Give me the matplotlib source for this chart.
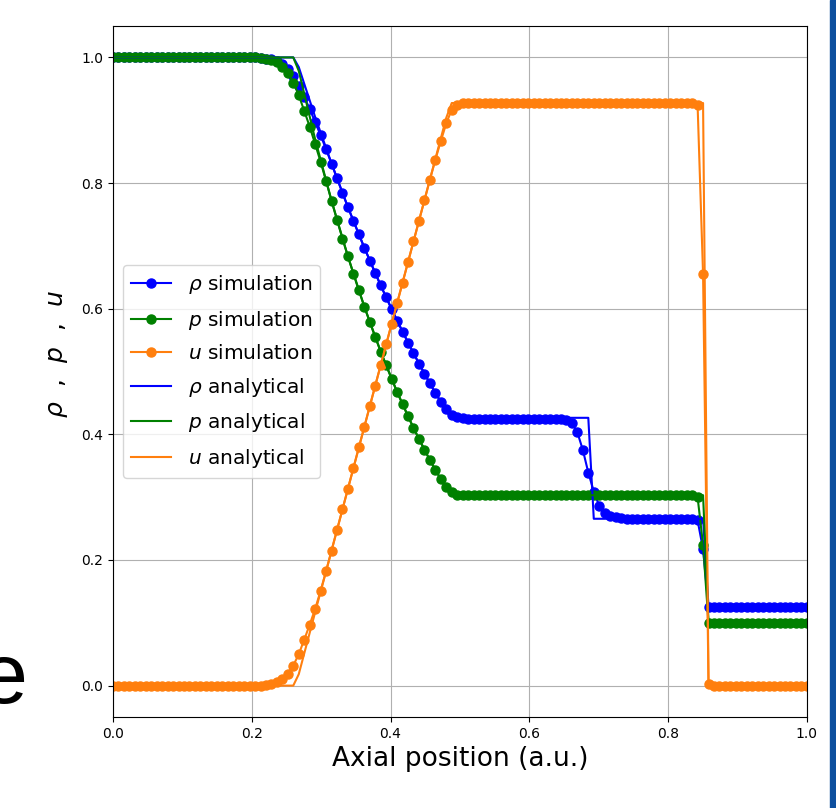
import numpy as np
import matplotlib.pyplot as plt
from matplotlib.patches import Rectangle

# simulation cells (uniform grid on [0, 1])
x_sim = np.linspace(0.0, 1.0, 128)

rho_sim = [
    1.0, 1.0, 1.0, 1.0, 1.0, 1.0, 1.0, 1.0, 1.0, 1.0,
    1.0, 1.0, 1.0, 1.0, 1.0, 1.0, 1.0, 1.0, 1.0, 1.0,
    1.0, 1.0, 1.0, 1.0, 1.0, 1.0, 1.0, 0.999, 0.998, 0.997,
    0.994, 0.989, 0.981, 0.970, 0.955, 0.937, 0.918, 0.897, 0.876, 0.854,
    0.831, 0.8074, 0.7842, 0.7617, 0.7397, 0.7182, 0.6971, 0.6766, 0.6565, 0.6370,
    0.6179, 0.5992, 0.5811, 0.5633, 0.5460, 0.5291, 0.5127, 0.4967, 0.4812, 0.4663,
    0.452, 0.440, 0.431, 0.427, 0.426, 0.425, 0.425, 0.425, 0.425, 0.425,
    0.425, 0.425, 0.425, 0.425, 0.425, 0.425, 0.425, 0.425, 0.425, 0.425,
    0.425, 0.425, 0.425, 0.423, 0.418, 0.403, 0.375, 0.339, 0.309, 0.286,
    0.275, 0.270, 0.268, 0.267, 0.266, 0.266, 0.266, 0.266, 0.266, 0.266,
    0.266, 0.266, 0.266, 0.266, 0.266, 0.266, 0.266, 0.263, 0.217, 0.125,
    0.125, 0.125, 0.125, 0.125, 0.125, 0.125, 0.125, 0.125, 0.125, 0.125,
    0.125, 0.125, 0.125, 0.125, 0.125, 0.125, 0.125, 0.125,
]

p_sim = [
    1.0, 1.0, 1.0, 1.0, 1.0, 1.0, 1.0, 1.0, 1.0, 1.0,
    1.0, 1.0, 1.0, 1.0, 1.0, 1.0, 1.0, 1.0, 1.0, 1.0,
    1.0, 1.0, 1.0, 1.0, 1.0, 1.0, 1.0, 0.999, 0.998, 0.996,
    0.992, 0.985, 0.975, 0.960, 0.940, 0.915, 0.890, 0.862, 0.834, 0.803,
    0.772, 0.7412, 0.7116, 0.6832, 0.6557, 0.6290, 0.6034, 0.5787, 0.5548, 0.5318,
    0.5097, 0.4883, 0.4676, 0.4478, 0.4286, 0.4102, 0.3925, 0.3754, 0.3591, 0.3436,
    0.329, 0.316, 0.308, 0.304, 0.303, 0.303, 0.303, 0.303, 0.303, 0.303,
    0.303, 0.303, 0.303, 0.303, 0.303, 0.303, 0.303, 0.303, 0.303, 0.303,
    0.303, 0.303, 0.303, 0.303, 0.303, 0.303, 0.303, 0.303, 0.303, 0.303,
    0.303, 0.303, 0.303, 0.303, 0.303, 0.303, 0.303, 0.303, 0.303, 0.303,
    0.303, 0.303, 0.303, 0.303, 0.303, 0.303, 0.303, 0.300, 0.224, 0.1,
    0.1, 0.1, 0.1, 0.1, 0.1, 0.1, 0.1, 0.1, 0.1, 0.1,
    0.1, 0.1, 0.1, 0.1, 0.1, 0.1, 0.1, 0.1,
]

u_sim = [
    0.0, 0.0, 0.0, 0.0, 0.0, 0.0, 0.0, 0.0, 0.0, 0.0,
    0.0, 0.0, 0.0, 0.0, 0.0, 0.0, 0.0, 0.0, 0.0, 0.0,
    0.0, 0.0, 0.0, 0.0, 0.0, 0.0, 0.0, 0.0, 0.001, 0.003,
    0.006, 0.011, 0.019, 0.032, 0.050, 0.073, 0.097, 0.122, 0.151, 0.182,
    0.2150, 0.2478, 0.2806, 0.3134, 0.3462, 0.3791, 0.4119, 0.4447, 0.4775, 0.5103,
    0.5431, 0.5759, 0.6087, 0.6415, 0.6743, 0.7071, 0.7399, 0.7727, 0.8053, 0.837,
    0.867, 0.895, 0.917, 0.925, 0.927, 0.927, 0.927, 0.927, 0.927, 0.927,
    0.927, 0.927, 0.927, 0.927, 0.927, 0.927, 0.927, 0.927, 0.927, 0.927,
    0.927, 0.927, 0.927, 0.927, 0.927, 0.927, 0.927, 0.927, 0.927, 0.927,
    0.927, 0.927, 0.927, 0.927, 0.927, 0.927, 0.927, 0.927, 0.927, 0.927,
    0.927, 0.927, 0.927, 0.927, 0.927, 0.927, 0.927, 0.924, 0.655, 0.003,
    0.0, 0.0, 0.0, 0.0, 0.0, 0.0, 0.0, 0.0, 0.0, 0.0,
    0.0, 0.0, 0.0, 0.0, 0.0, 0.0, 0.0, 0.0,
]

# analytical solution, vertices of the piecewise curves
x_ana = [0.0, 0.2598, 0.2677, 0.2913, 0.3150, 0.3386, 0.3622, 0.3858, 0.4094,
         0.4331, 0.4567, 0.4803, 0.4882, 0.6850, 0.6929, 0.8504, 0.8583, 1.0]
rho_ana = [1.0, 1.0, 0.9847, 0.9053, 0.8310, 0.7617, 0.6971, 0.6370, 0.5811,
           0.5291, 0.4810, 0.4364, 0.4263, 0.4263, 0.2656, 0.2656, 0.125, 0.125]
p_ana = [1.0, 1.0, 0.9787, 0.8699, 0.7717, 0.6832, 0.6034, 0.5318, 0.4676,
         0.4102, 0.3589, 0.3132, 0.3031, 0.3031, 0.3031, 0.3031, 0.1, 0.1]
u_ana = [0.0, 0.0, 0.0181, 0.1166, 0.2150, 0.3134, 0.4119, 0.5103, 0.6087,
         0.7071, 0.8055, 0.9039, 0.9274, 0.9274, 0.9274, 0.9274, 0.0, 0.0]

fig = plt.figure(figsize=(8.37, 8.08), dpi=100)
ax = fig.add_axes([0.135, 0.1126, 0.829, 0.8552])

ax.plot(x_sim, rho_sim, c='b', marker='o', markersize=6.5, label=r'$\rho$ simulation')
ax.plot(x_sim, p_sim, c='g', marker='o', markersize=6.5, label=r'$p$ simulation')
ax.plot(x_sim, u_sim, c='tab:orange', marker='o', markersize=6.5, label=r'$u$ simulation')
ax.plot(x_ana, rho_ana, c='b', label=r'$\rho$ analytical')
ax.plot(x_ana, p_ana, c='g', label=r'$p$ analytical')
ax.plot(x_ana, u_ana, c='tab:orange', label=r'$u$ analytical')

ax.set_xlim(0, 1)
ax.set_ylim(-0.05, 1.05)
ax.grid(True)
ax.tick_params(labelsize=10)
ax.set_xlabel('Axial position (a.u.)', fontsize=19)
ax.set_ylabel(r'$\rho$  ,  $p$  ,  $u$', fontsize=18)
ax.yaxis.set_label_coords(-0.062, 0.525)
ax.legend(loc='center left', fontsize=14.5, labelspacing=0.62)

# slide leftovers around the figure
fig.text(-0.0245, 0.130, 'e', fontsize=62, family='Liberation Sans', ha='left', va='baseline')
fig.patches.append(Rectangle((830 / 837, 0), 7 / 837, 1, transform=fig.transFigure,
                             color='#0d4f9e', zorder=5))

plt.savefig('out.png', dpi=100)
